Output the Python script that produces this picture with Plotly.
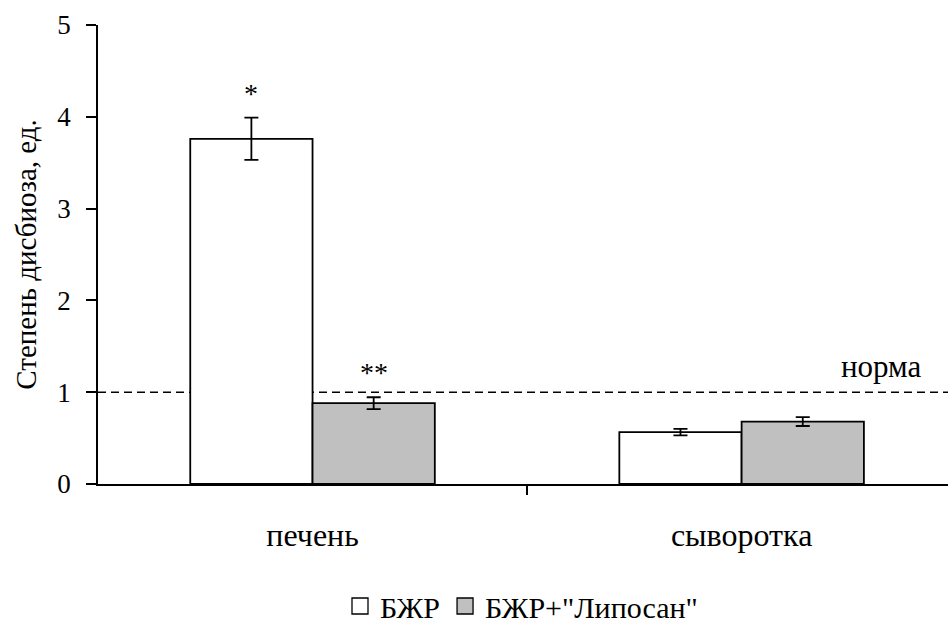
import plotly.graph_objects as go

categories = ["печень", "сыворотка"]
series_names = ["БЖР", "БЖР+\"Липосан\""]
values_bzhr = [3.76, 0.565]
errors_bzhr = [0.23, 0.035]
values_lip = [0.88, 0.68]
errors_lip = [0.065, 0.048]
marks_bzhr = ["*", ""]
marks_lip = ["**", ""]
colors = ["#ffffff", "#c0c0c0"]
norm_value = 1
norm_label = "норма"
y_title = "Степень дисбиоза, ед."
y_ticks = [0, 1, 2, 3, 4, 5]

FONT = "Liberation Serif"
bargap = 0.43
xpos = list(range(len(categories)))
LW = 1.8

fig = go.Figure()
series = [
    (series_names[0], values_bzhr, errors_bzhr, colors[0], marks_bzhr),
    (series_names[1], values_lip, errors_lip, colors[1], marks_lip),
]
for name, vals, errs, col, _ in series:
    fig.add_trace(go.Bar(
        x=xpos, y=vals, name=name, showlegend=False,
        marker=dict(color=col, line=dict(color="black", width=LW)),
        error_y=dict(type="data", array=errs, visible=True,
                     color="black", thickness=LW, width=7),
    ))
# legend entries with larger square swatches
for name, vals, errs, col, _ in series:
    fig.add_trace(go.Scatter(
        x=[None], y=[None], name=name, mode="markers",
        marker=dict(symbol="square", size=16, color=col,
                    line=dict(color="black", width=1.3)),
    ))

fig.add_trace(go.Scatter(x=[0.5], y=[None], xaxis="x2", showlegend=False,
                         hoverinfo="skip"))

nser = len(series)
bw = (1 - bargap) / nser
for si, (name, vals, errs, col, marks) in enumerate(series):
    off = -(1 - bargap) / 2 + bw * (si + 0.5)
    for ci, m in enumerate(marks):
        if m:
            fig.add_annotation(x=xpos[ci] + off, y=vals[ci] + errs[ci],
                               text=m, showarrow=False, yanchor="bottom",
                               yshift=7, font=dict(family=FONT, size=28, color="black"))

fig.add_shape(type="line", xref="paper", x0=0, x1=1, y0=norm_value, y1=norm_value,
              line=dict(color="black", width=1.5, dash="8px,5px"), layer="below")
fig.add_annotation(xref="paper", x=1, y=norm_value, text=norm_label, showarrow=False,
                   xanchor="right", yanchor="bottom", yshift=6, xshift=-24,
                   font=dict(family=FONT, size=31, color="black"))

xr = [-0.5, 1.481]
fig.update_layout(
    width=948, height=624,
    margin=dict(l=98, r=0, t=25, b=140),
    paper_bgcolor="white", plot_bgcolor="white",
    barmode="group", bargap=bargap, bargroupgap=0,
    font=dict(family=FONT, color="black", size=28),
    xaxis=dict(range=xr, tickvals=xpos, ticktext=categories, ticks="",
               showline=True, linecolor="black", linewidth=LW,
               showgrid=False, zeroline=False, ticklabelstandoff=22,
               tickfont=dict(family=FONT, size=32)),
    xaxis2=dict(range=xr, overlaying="x", side="bottom", tickvals=[0.5],
                ticks="outside", ticklen=10, tickwidth=LW, tickcolor="black",
                showticklabels=False, showgrid=False, zeroline=False, showline=False),
    yaxis=dict(range=[0, 5], tickvals=y_ticks, ticks="outside", ticklen=10,
               tickwidth=LW, tickcolor="black", showline=True, linecolor="black",
               linewidth=LW, showgrid=False, zeroline=False, ticklabelstandoff=10,
               tickfont=dict(family=FONT, size=27),
               title=dict(text=y_title, font=dict(family=FONT, size=29), standoff=12)),
    legend=dict(orientation="h", xref="container", yref="container",
                x=340 / 948, xanchor="left", y=1 - 606 / 624, yanchor="middle",
                font=dict(family=FONT, size=30), itemwidth=30, tracegroupgap=0,
                itemsizing="trace", bgcolor="rgba(0,0,0,0)"),
    showlegend=True,
)

fig.write_html("out.html", config={"displayModeBar": False},
               post_script="document.body.style.margin='0';document.body.style.overflow='hidden';")
